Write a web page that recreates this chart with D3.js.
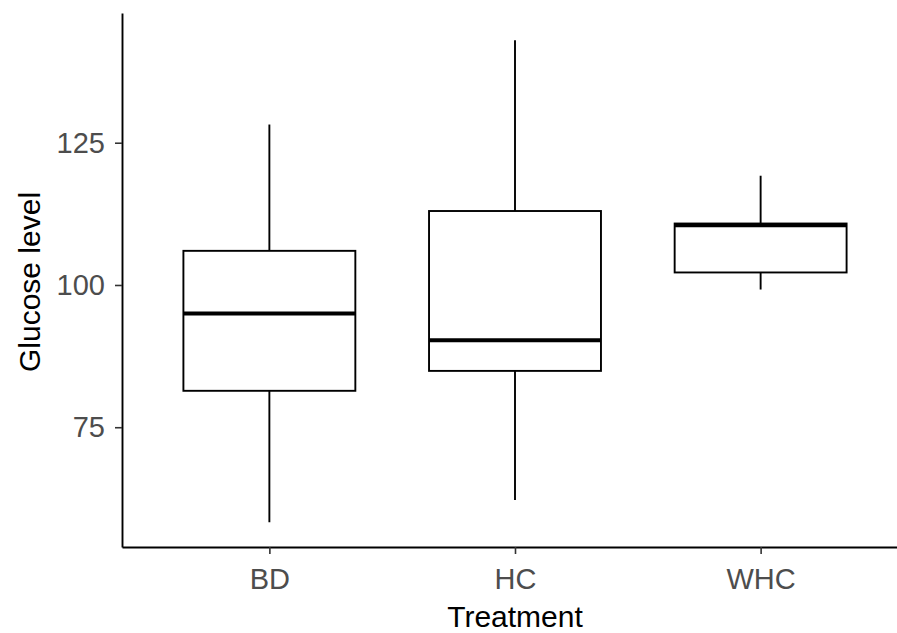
<!DOCTYPE html>
<html>
<head>
<meta charset="utf-8">
<script src="https://cdn.jsdelivr.net/npm/d3@7"></script>
<style>
  body { margin: 0; background: #fff; }
  svg { display: block; font-family: "Liberation Sans", Arial, sans-serif; }
</style>
</head>
<body>
<svg id="chart"></svg>
<script>
// box plot statistics
const categories = ["BD", "HC", "WHC"];
const lowerWhisker = [58.3, 62.2, 99.2];
const q1 = [81.4, 84.9, 102.2];
const median = [95.0, 90.3, 110.5];
const q3 = [106.0, 113.0, 110.8];
const upperWhisker = [128.2, 143.0, 119.2];
const yTicks = [75, 100, 125];

const width = 897, height = 633;
const panel = { left: 122, right: 908, top: 13, bottom: 547 };

const svg = d3.select("#chart")
    .attr("width", width)
    .attr("height", height);

const boxes = categories.map((c, i) => ({
    name: c,
    lo: lowerWhisker[i], q1: q1[i], med: median[i], q3: q3[i], hi: upperWhisker[i]
}));

// discrete x scale with ggplot-like 0.6 expansion
const x = d3.scalePoint()
    .domain(categories)
    .range([panel.left, panel.right])
    .padding(0.6);

const y = d3.scaleLinear()
    .domain([53.95, 147.8])
    .range([panel.bottom, panel.top]);

const boxWidth = x.step() * 0.7;

const g = svg.append("g");

// whiskers
g.selectAll(".whisker-hi")
    .data(boxes)
    .enter()
    .append("line")
    .attr("x1", d => x(d.name))
    .attr("x2", d => x(d.name))
    .attr("y1", d => y(d.q3))
    .attr("y2", d => y(d.hi))
    .attr("stroke", "#000")
    .attr("stroke-width", 1.9);

g.selectAll(".whisker-lo")
    .data(boxes)
    .enter()
    .append("line")
    .attr("x1", d => x(d.name))
    .attr("x2", d => x(d.name))
    .attr("y1", d => y(d.q1))
    .attr("y2", d => y(d.lo))
    .attr("stroke", "#000")
    .attr("stroke-width", 1.9);

// boxes
g.selectAll(".box")
    .data(boxes)
    .enter()
    .append("rect")
    .attr("x", d => x(d.name) - boxWidth / 2)
    .attr("width", boxWidth)
    .attr("y", d => y(d.q3))
    .attr("height", d => y(d.q1) - y(d.q3))
    .attr("fill", "#fff")
    .attr("stroke", "#000")
    .attr("stroke-width", 1.9);

// medians
g.selectAll(".median")
    .data(boxes)
    .enter()
    .append("line")
    .attr("x1", d => x(d.name) - boxWidth / 2)
    .attr("x2", d => x(d.name) + boxWidth / 2)
    .attr("y1", d => y(d.med))
    .attr("y2", d => y(d.med))
    .attr("stroke", "#000")
    .attr("stroke-width", 4);

// y axis
const yAxis = svg.append("g")
    .attr("transform", "translate(" + panel.left + ",0)")
    .call(d3.axisLeft(y).tickValues(yTicks).tickSize(7).tickSizeOuter(0).tickPadding(10));

// x axis
const xAxis = svg.append("g")
    .attr("transform", "translate(0," + panel.bottom + ")")
    .call(d3.axisBottom(x).tickSize(7).tickSizeOuter(0).tickPadding(14));

[xAxis, yAxis].forEach(ax => {
    ax.select(".domain").attr("stroke", "#000").attr("stroke-width", 1.9);
    ax.selectAll(".tick line").attr("stroke", "#333").attr("stroke-width", 1.6);
    ax.selectAll(".tick text")
        .attr("fill", "#4d4d4d")
        .style("font-size", "29px")
        .style("font-family", "'Liberation Sans', Arial, sans-serif");
});

// axis titles
svg.append("text")
    .attr("x", (panel.left + panel.right) / 2)
    .attr("y", 627)
    .attr("text-anchor", "middle")
    .style("font-size", "30px")
    .attr("fill", "#000")
    .text("Treatment");

svg.append("text")
    .attr("transform", "translate(40," + ((panel.top + panel.bottom) / 2 + 2) + ") rotate(-90)")
    .attr("text-anchor", "middle")
    .style("font-size", "30px")
    .attr("fill", "#000")
    .text("Glucose level");
</script>
</body>
</html>
